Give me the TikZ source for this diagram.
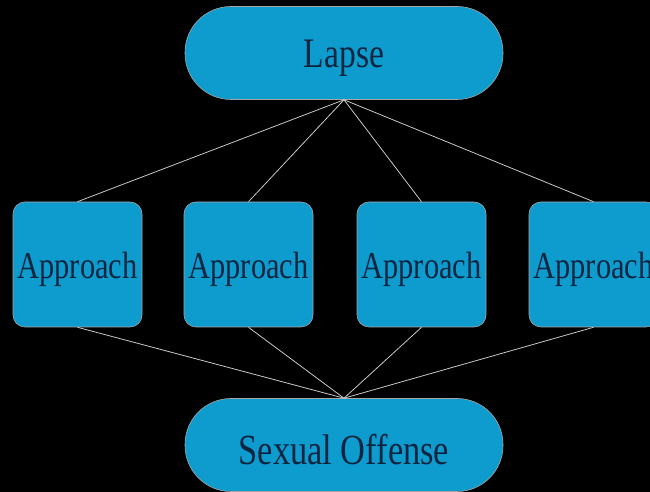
\documentclass[tikz,border=0pt]{standalone}
\usepackage{fontspec}
\setmainfont{Liberation Serif}
\newfontfamily\narrowserif[FakeStretch=0.8]{Liberation Serif}
\definecolor{boxblue}{RGB}{14,155,206}
\definecolor{inkblue}{RGB}{12,38,66}
\definecolor{wire}{RGB}{200,200,200}
% set a label a little below its optical centre, keeping its box size
\newcommand{\lowered}[1]{\raisebox{-5pt}[\height][\depth]{#1}}
\begin{document}
\begin{tikzpicture}[x=1pt,y=1pt,
  pill/.style={draw=gray!70, line width=0.6pt, fill=boxblue, text=inkblue,
    rounded corners=46pt, minimum width=318pt, minimum height=93pt,
    inner sep=0pt},
  stage/.style={draw=gray!70, line width=0.6pt, fill=boxblue, text=inkblue,
    rounded corners=12pt, minimum width=129pt, minimum height=125pt,
    inner sep=0pt, font=\narrowserif\fontsize{38}{40}\selectfont},
  link/.style={draw=wire, line width=0.8pt}]
  \useasboundingbox (0,0) rectangle (650,492);
  \clip (0,0) rectangle (650,492);
  \fill[black] (0,0) rectangle (650,492);
  % top and bottom terminals
  \node[pill, font=\narrowserif\fontsize{42}{44}\selectfont] (lapse) at (344,439) {\lowered{Lapse}};
  \node[pill, font=\narrowserif\fontsize{43}{46}\selectfont] (offense) at (344,47) {\lowered{Sexual Offense}};
  % the four approach stages
  \node[stage] (a1) at (77.5,227.5) {\lowered{Approach}};
  \node[stage] (a2) at (248.5,227.5) {\lowered{Approach}};
  \node[stage] (a3) at (421.5,227.5) {\lowered{Approach}};
  \node[stage] (a4) at (593.5,227.5) {\lowered{Approach}};
  % connectors
  \foreach \n in {a1,a2,a3,a4}{
    \draw[link] (lapse.south) -- (\n.north);
    \draw[link] (\n.south) -- (offense.north);
  }
\end{tikzpicture}
\end{document}
